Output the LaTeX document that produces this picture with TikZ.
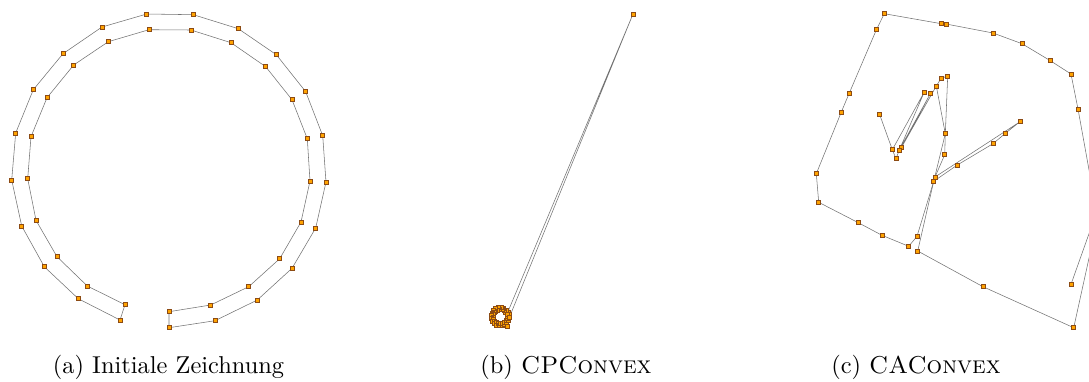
\documentclass[tikz,border=0pt]{standalone}
\definecolor{vertexorange}{RGB}{255,163,0}
\definecolor{vertexrim}{RGB}{140,75,20}
\definecolor{linegray}{RGB}{115,115,115}
\usepackage{tikz}
\usetikzlibrary{calc}

\begin{document}
\begin{tikzpicture}[x=1pt,y=-1pt,
        vertex/.style={draw=vertexrim,fill=vertexorange,line width=0.45pt,inner sep=0pt,minimum size=4pt},
        link/.style={draw=linegray,line width=0.55pt,line join=round},
        subcap/.style={font=\normalsize,scale=2.44,anchor=base}]
        \useasboundingbox (0,0) rectangle (1089,381);
        \clip (0,0) rectangle (1089,381);
        \foreach \x/\y [count=\i] in {120/320,78.3/298.7,44.3/266.7,21.7/226,11.7/180,15.7/133,33.3/89.7,
          63/53.7,102/27,146.7/14,193.3/14.7,238.3/28.7,276.3/54.7,305.7/91.7,322.7/135.7,326/182,
          315.7/228,292/268.3,257.3/300,215/320.7,169/327.7,169/311.7,210.7/305,248.7/286.7,
          279.7/258.7,301/222,310/181,307.3/138.7,292/99.7,265.7/66.7,231/42.7,191/30,149/29.7,
          108.3/41.7,73.7/65,47/97.7,31/136.7,27.7/178.7,36/220.3,57/256.7,87.3/286,125/304.7}
          \coordinate (a\i) at (\x,\y);
        \draw[link] (a1) \foreach \i in {2,...,42}{ -- (a\i)} -- cycle;
        \foreach \i in {1,...,42} \node[vertex] (va\i) at (a\i) {};
        \coordinate (bc) at (500,316.5); \coordinate (bt) at (633,14);
        \foreach \k in {0,...,19} {
          \coordinate (bo\k) at ($(bc)+(-30-18*\k:9)$);
          \coordinate (bi\k) at ($(bc)+(-39-18*\k:7.2)$);}
        \coordinate (bx1) at (507,326.5); \coordinate (bx2) at (509.5,317);
        \draw[link] (bt) \foreach \k in {0,...,19}{ -- (bo\k)} \foreach \k in {19,...,0}{ -- (bi\k)} -- (bx1) -- (bx2) -- (bt);
        \foreach \k in {0,...,19} {\node[vertex] (vbo\k) at (bo\k) {}; \node[vertex] (vbi\k) at (bi\k) {};}
        \node[vertex] (vbx1) at (bx1) {}; \node[vertex] (vbx2) at (bx2) {}; \node[vertex] (vbt) at (bt) {};
        \foreach \x/\y [count=\i] in {908.7/246.3,882/235.3,858.3/222.7,818.7/202.3,816.3/173.7,841.3/112,
          849/93.7,876.7/29,884.3/13.7,941.3/23.7,946/24,993/33,1022/43.7,1050.3/60.7,1071/74,
          1078/109,1093/192,1091/249,1073.7/327.7,983/286.7,917.7/251,933.7/181.3,957.3/165,
          993/143.7,1005.7/133,1020/121.7,935/177,944.7/154.7,945.3/133.7,947.7/76.3,941.3/78,
          936.3/86,901.7/147,930.3/93.7,899.3/150,924.3/92,896/158.7,892.3/149.7,879.7/114.7,
          917/236.3,1071/284.3,1096/214}
          \coordinate (c\i) at (\x,\y);
        \draw[link] (c1) \foreach \i in {2,...,21}{ -- (c\i)};
        \draw[link] (c21) \foreach \i in {22,...,36}{ -- (c\i)} -- (c38) -- (c39);
        \draw[link] (c35) -- (c37) -- (c38);
        \draw[link] (c1) -- (c40) -- (c27);
        \draw[link] (c22) -- (c29) -- (c32);
        \draw[link] (c41) -- (c42) -- (c17);
        \foreach \i in {1,...,41} \node[vertex] (vc\i) at (c\i) {};
        \node[subcap] (capa) at (168.5,373) {(a) Initiale Zeichnung};
        \node[subcap] (capb) at (566,373) {(b) \textsc{CPConvex}};
        \node[subcap] (capc) at (916,373) {(c) \textsc{CAConvex}};
      \end{tikzpicture}
\end{document}
